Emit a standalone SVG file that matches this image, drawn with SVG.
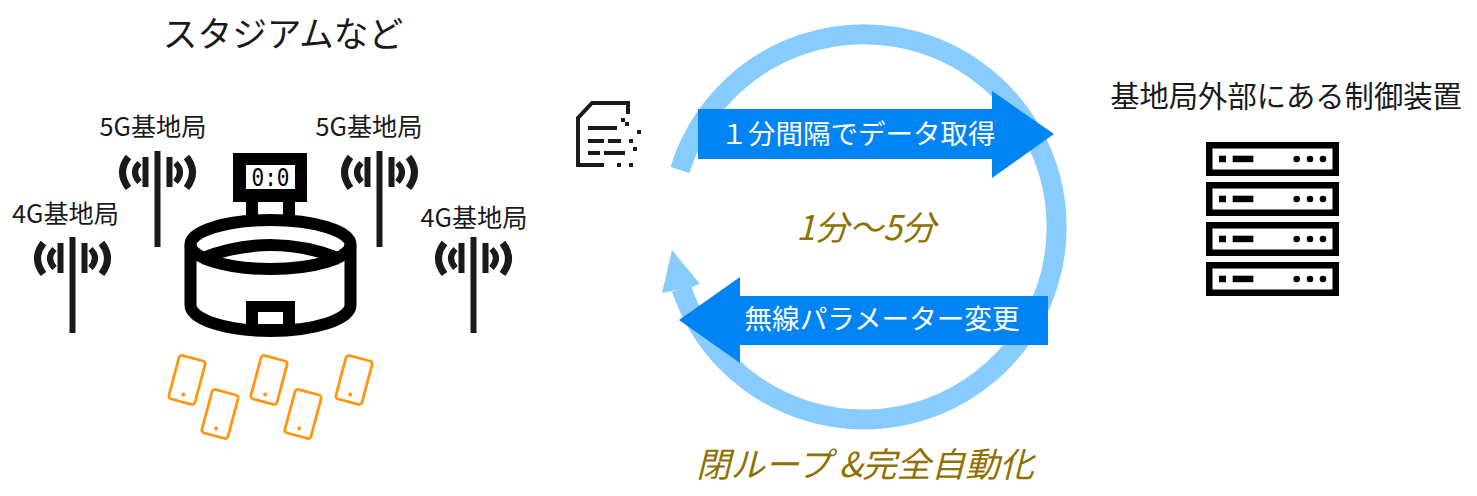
<svg xmlns="http://www.w3.org/2000/svg" width="1477" height="496" viewBox="0 0 1477 496">
<style>
text{font-family:"Noto Sans CJK JP","Noto Sans",sans-serif;fill:#1a1a1a}
.l{font-size:25.200px;text-anchor:middle}
.h{font-size:34.700px;text-anchor:middle}
.m{font-size:29.300px;text-anchor:middle}
.w{fill:#fff;text-anchor:middle}
.g{font-style:italic;fill:#8f7000;text-anchor:middle}
.ant{fill:none;stroke:#1a1a1a;stroke-width:7}
.ph{fill:#fff;stroke:#ff9612;stroke-width:2.800}
.st{fill:none;stroke:#000;stroke-width:12}
</style>
<defs>
<g id="antenna">
<path class="ant" d="M0,0V96" style="stroke-width:6"/>
<path d="M-15,6h6v30h-6zM9,6h6v30h-6z" fill="#1a1a1a"/>
<path class="ant" d="M-18,12Q-27,21 -18,31M18,12Q27,21 18,31" style="stroke-width:6"/>
<path class="ant" d="M-29,6Q-41,21 -29,37M29,6Q41,21 29,37"/>
</g>
<g id="phone">
<rect class="ph" x="-13.500" y="-22.500" width="27" height="45" rx="3"/>
<circle cx="0" cy="15" r="2" fill="#ff9612"/>
</g>
<g id="rack">
<rect x="3.250" y="3.250" width="126.500" height="27.500" fill="#fff" stroke="#000" stroke-width="6.500"/>
<rect x="13" y="13.700" width="7" height="6.500"/>
<rect x="26.700" y="13.700" width="20.600" height="6.500"/>
<circle cx="90.700" cy="17" r="3.300"/><circle cx="104" cy="17" r="3.300"/><circle cx="117" cy="17" r="3.300"/>
</g>
</defs>

<g id="connectors">
<path d="M680,170A192.600,192.600 0 1 1 681.500,288.500" fill="none" stroke="#88ccff" stroke-width="20"/>
<path d="M672,250L700,284L691,287L672,291L662,293Z" fill="#88ccff"/>
</g>

<g id="node-title"><text class="h" x="283" y="47">スタジアムなど</text></g>

<g id="node-5g-left"><text class="l" x="153" y="136">5G基地局</text><use href="#antenna" x="157.500" y="151"/></g>
<g id="node-5g-right"><text class="l" x="369" y="136">5G基地局</text><use href="#antenna" x="379.500" y="151"/></g>
<g id="node-4g-left"><text class="l" x="65.500" y="223">4G基地局</text><use href="#antenna" x="72.500" y="237"/></g>
<g id="node-4g-right"><text class="l" x="474" y="227">4G基地局</text><use href="#antenna" x="473.500" y="237"/></g>

<g id="node-stadium">
<rect x="233" y="153" width="74" height="49"/>
<rect x="246" y="165" width="49" height="24" fill="#fff"/>
<text x="270.500" y="186" font-size="24" text-anchor="middle" textLength="38" lengthAdjust="spacingAndGlyphs" style="font-family:'DejaVu Sans Mono',monospace;fill:#000">0:0</text>
<path d="M252,202V222M289,202V222" class="st"/>
<ellipse cx="270.500" cy="244.500" rx="80" ry="24.500" class="st"/>
<path d="M200,259Q270.500,231 341,259" class="st"/>
<path d="M190.500,244.500V305A80,26 0 0 0 350.500,305V244.500" class="st"/>
<rect x="246" y="301" width="49" height="32"/>
<rect x="258" y="312" width="25" height="12" fill="#fff"/>
</g>

<g id="node-phones">
<use href="#phone" transform="translate(187,380) rotate(15)"/>
<use href="#phone" transform="translate(220,414) rotate(15)"/>
<use href="#phone" transform="translate(269,380) rotate(15)"/>
<use href="#phone" transform="translate(303,414) rotate(15)"/>
<use href="#phone" transform="translate(354,380) rotate(15)"/>
</g>

<g id="node-data">
<path d="M628,114V103H592L578,118V165H604" fill="none" stroke="#1a1a1a" stroke-width="4"/>
<path d="M588,128h29M588,141h16M608,141h13M588,153h12M604,153h21" fill="none" stroke="#1a1a1a" stroke-width="4"/>
<path d="M621,118h4v4h-4zM625,122h4v4h-4zM637,130h4v4h-4zM629,139h4v4h-4zM633,147h4v4h-4zM617,163h4v4h-4zM629,163h4v4h-4z" fill="#1a1a1a"/>
</g>

<g id="node-collect">
<path d="M698,109H992V91L1054,134L992,178V159H698Z" fill="#0084f4"/>
<text class="w" x="858" y="144" style="font-size:27.500px">１分間隔でデータ取得</text>
</g>

<g id="node-change">
<path d="M1048,296H740V277L679,320L740,363V345H1048Z" fill="#0084f4"/>
<text class="w" x="882" y="329" style="font-size:27.600px">無線パラメーター変更</text>
</g>

<g id="node-interval"><text class="g" x="866" y="240" font-size="34">1分～5分</text></g>
<g id="node-loop"><text class="g" x="865" y="477" font-size="34.300">閉ループ &amp;完全自動化</text></g>

<g id="node-server">
<text class="m" x="1286" y="107">基地局外部にある制御装置</text>
<use href="#rack" x="1206" y="142"/>
<use href="#rack" x="1206" y="182"/>
<use href="#rack" x="1206" y="222"/>
<use href="#rack" x="1206" y="262"/>
</g>
</svg>
